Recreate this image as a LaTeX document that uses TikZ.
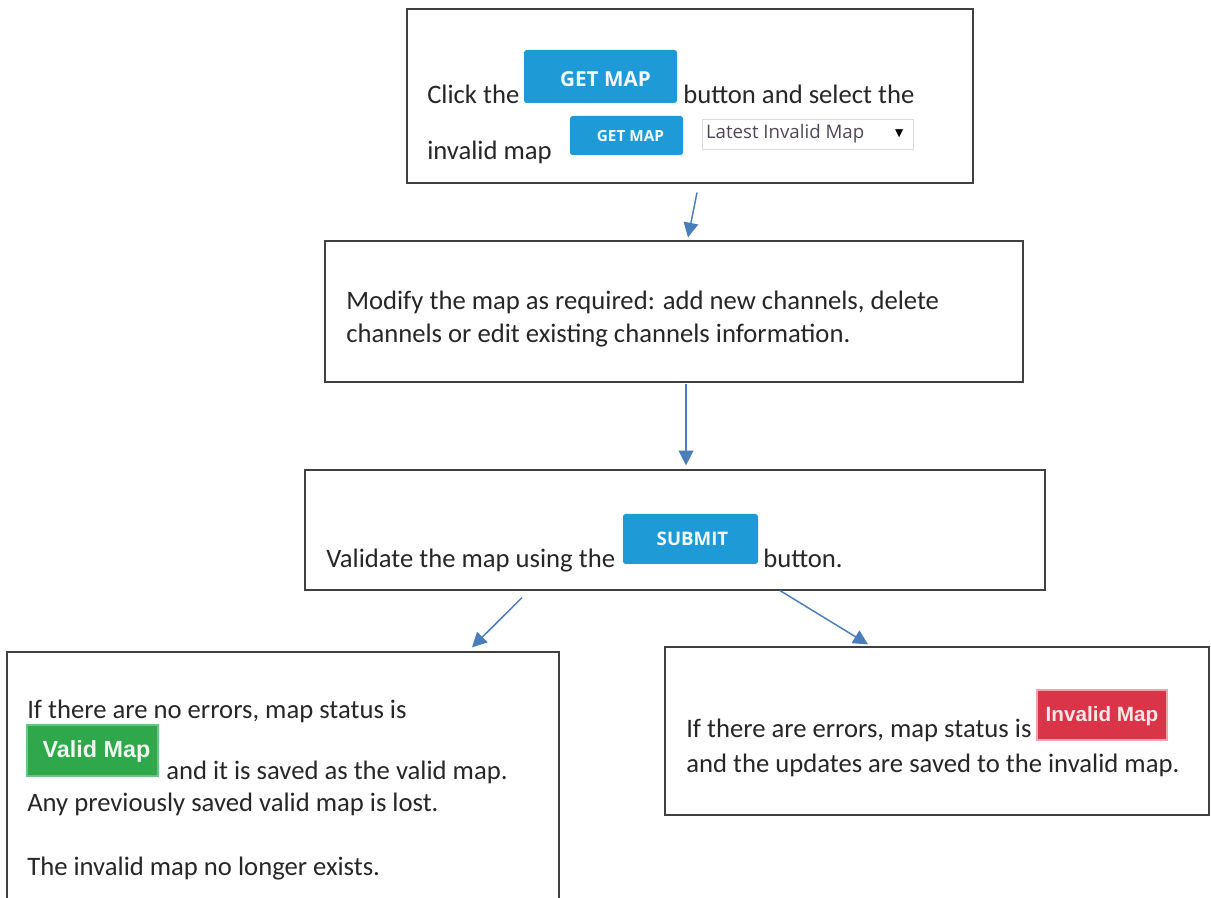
\documentclass[tikz,border=0pt]{standalone}
\usepackage{fontspec}
\setmainfont{Carlito}
\newfontfamily\btnfont{Open Sans}
\newfontfamily\badgefont{Liberation Sans}
\newfontfamily\symfont{DejaVu Sans}
\usepackage{xcolor}
\usepackage{tikz}
\usetikzlibrary{arrows.meta, calc, fit, positioning}

\definecolor{btnblue}{RGB}{30,154,214}
\definecolor{okgreen}{RGB}{46,168,74}
\definecolor{errred}{RGB}{218,52,72}
\definecolor{flowblue}{RGB}{74,126,187}
\definecolor{framegray}{RGB}{64,64,64}
\definecolor{listgray}{RGB}{78,72,86}

\begin{document}
\begin{tikzpicture}[x=0.75pt, y=-0.75pt, >={Triangle[length=11pt, width=11pt]},
    box/.style={draw=framegray, line width=0.9pt, inner sep=0pt},
    txt/.style={anchor=base west, inner sep=0pt, text=black!85,
        font=\fontsize{20}{24}\selectfont},
    btn/.style={fill=btnblue, rounded corners=2pt, inner sep=0pt},
    btnlabel/.style={inner sep=0pt, text=white!94!btnblue},
    badge/.style={inner sep=0pt},
    badgelabel/.style={inner sep=0pt, font=\badgefont\bfseries\fontsize{15.5}{15.5}\selectfont},
    flow/.style={->, draw=flowblue, line width=1.1pt}]
    % Page size
    \useasboundingbox (0,0) rectangle (1211,898);

    % Step boxes
    \node[box, fit={(407,9) (973,183)}] (getstep) {};
    \node[box, fit={(325,241) (1023,382)}] (editstep) {};
    \node[box, fit={(305,470) (1045,590)}] (checkstep) {};
    \node[box, fit={(7,652) (559,910)}] (okstep) {};
    \node[box, fit={(665,647) (1209,815)}] (errstep) {};

    % Step 1: get the map
    \node[txt] (click) at (427,104) {Click the};
    \node[btn, fit={(524,50) (677,103)}] (getbig) {};
    \node[btnlabel, font=\btnfont\bfseries\fontsize{15.5}{15.5}\selectfont]
        (getbigtext) at ($(getbig.center)+(5,3)$) {GET MAP};
    \node[txt] (select) at (683,104) {button and select the};
    \node[txt] (invalid) at (427,160) {invalid map};
    \node[btn, fit={(570,116) (683,155)}] (getsmall) {};
    \node[btnlabel, font=\btnfont\bfseries\fontsize{11.5}{11.5}\selectfont]
        (getsmalltext) at ($(getsmall.center)+(4,1)$) {GET MAP};
    \node[draw=black!15, fill=white, inner sep=0pt, fit={(702,119) (913,149)}] (dropdown) {};
    \node[anchor=west, inner sep=0pt, text=listgray, font=\btnfont\fontsize{14}{14}\selectfont]
        (ddtext) at ($(dropdown.west)+(4,0)$) {Latest Invalid Map};
    \node[inner sep=0pt, font=\symfont\fontsize{8}{8}\selectfont] (ddarrow) at ($(dropdown.east)+(-14,0)$) {▼};

    % Step 2: edit
    \node[txt] (modify1) at (346,310) {Modify the map as required: add new channels, delete};
    \node[txt] (modify2) at (346,343) {channels or edit existing channels information.};

    % Step 3: validate
    \node[txt] (validate) at (326,567) {Validate the map using the};
    \node[btn, fit={(623,514) (758,564)}] (submit) {};
    \node[btnlabel, font=\btnfont\bfseries\fontsize{14}{14}\selectfont]
        (submittext) at ($(submit.center)+(2,0)$) {SUBMIT};
    \node[txt] (btnword) at (763,567) {button.};

    % Result: valid
    \node[txt] (ok1) at (27,718) {If there are no errors, map status is};
    \node[badge, fill=okgreen, draw=okgreen!70, line width=0.8pt, fit={(27,725) (158,776)}] (validbadge) {};
    \node[badgelabel, text=white!92!okgreen, font=\badgefont\bfseries\fontsize{17.5}{17.5}\selectfont]
        (validtext) at ($(validbadge.center)+(4,1)$) {Valid Map};
    \node[txt] (ok2) at (166,779) {and it is saved as the valid map.};
    \node[txt] (ok3) at (27,811) {Any previously saved valid map is lost.};
    \node[txt] (ok4) at (27,875) {The invalid map no longer exists.};

    % Result: invalid
    \node[txt] (err1) at (686,737) {If there are errors, map status is};
    \node[badge, fill=errred, draw=errred!45, line width=1.2pt, fit={(1037,690) (1167,740)}] (invalidbadge) {};
    \node[badgelabel, text=white!88!errred] (invalidtext) at ($(invalidbadge.center)+(0,1)$) {Invalid Map};
    \node[txt] (err2) at (686,772) {and the updates are saved to the invalid map.};

    % Arrows
    \draw[flow] ($(getstep.south)+(7,9)$) -- ($(editstep.north)+(14,-3)$);
    \draw[flow] ($(editstep.south)+(12,1)$) -- ($(checkstep.north)+(11,-4)$);
    \draw[flow] ($(checkstep.south)+(-153,7)$) -- ($(okstep.north)+(189,-4)$);
    \draw[flow] ($(checkstep.south)+(105,0)$) -- ($(errstep.north)+(-69,-2)$);
\end{tikzpicture}
\end{document}
